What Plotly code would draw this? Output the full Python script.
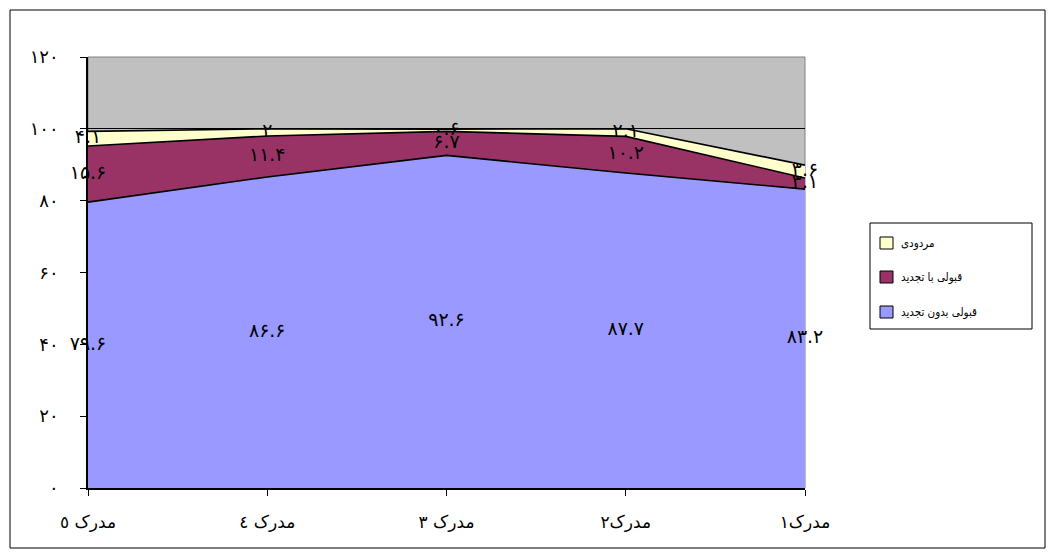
import plotly.graph_objects as go

# Categories (right-to-left order as shown on the axis from left to right)
categories = ["مدرک ٥", "مدرک ٤", "مدرک ٣", "مدرک٢", "مدرک١"]

# Series values (percent)
no_fail = [79.6, 86.6, 92.6, 87.7, 83.2]      # قبولی بدون تجدید
with_fail = [15.6, 11.4, 6.7, 10.2, 3.1]      # قبولی با تجدید
rejected = [4.1, 2, 0.6, 2.1, 3.6]            # مردودی

series_names = ["قبولی بدون تجدید", "قبولی با تجدید", "مردودی"]
series_values = [no_fail, with_fail, rejected]
series_colors = ["#9999FF", "#993366", "#FFFFCC"]

y_ticks = [0, 20, 40, 60, 80, 100, 120]

FA_DIGITS = str.maketrans("0123456789", "۰۱۲۳۴۵۶۷۸۹")


def fa(v):
    s = f"{v:g}"
    return s.translate(FA_DIGITS)


FONT = "DejaVu Sans, Arial, sans-serif"
FONT_NARROW = "DejaVu Sans Condensed, DejaVu Sans, sans-serif"
x = list(range(len(categories)))

fig = go.Figure()

# Stacked areas
for name, vals, col in zip(series_names, series_values, series_colors):
    fig.add_trace(go.Scatter(
        x=x, y=vals, name=name, stackgroup="one", mode="lines",
        line=dict(color="black", width=1.6), fillcolor=col,
        showlegend=False, hoverinfo="skip",
    ))

# Value labels centred inside each band
base = [0.0] * len(x)
for vals in series_values:
    mids = [b + v / 2 for b, v in zip(base, vals)]
    fig.add_trace(go.Scatter(
        x=x, y=mids, mode="text", text=[fa(v) for v in vals],
        textfont=dict(family=FONT, size=19, color="black"),
        textposition="middle center", showlegend=False, hoverinfo="skip",
        cliponaxis=False,
    ))
    base = [b + v for b, v in zip(base, vals)]

W, H = 1055, 558
L, R, T, B = 88, 250, 57, 70
pw, ph = W - L - R, H - T - B


def px(xp):
    return (xp - L) / pw


def py(yp):
    return (H - B - yp) / ph


shapes = []
annotations = []

# Outer chart frame
shapes.append(dict(type="rect", xref="paper", yref="paper",
                   x0=px(10), x1=px(1045), y0=py(548), y1=py(10),
                   line=dict(color="black", width=1), fillcolor="rgba(0,0,0,0)",
                   layer="above"))

# Plot area border
shapes.append(dict(type="rect", xref="paper", yref="paper",
                   x0=0, x1=1, y0=0, y1=1,
                   line=dict(color="#808080", width=1), fillcolor="rgba(0,0,0,0)",
                   layer="below"))

# Legend box (top entry is the last series)
lx0, lx1, ly0, ly1 = 870, 1032, 223, 329
shapes.append(dict(type="rect", xref="paper", yref="paper",
                   x0=px(lx0), x1=px(lx1), y0=py(ly1), y1=py(ly0),
                   line=dict(color="black", width=1), fillcolor="white",
                   layer="above"))
item_y = [243, 277, 312]
for (name, col), yc in zip(list(zip(series_names, series_colors))[::-1], item_y):
    shapes.append(dict(type="rect", xref="paper", yref="paper",
                       x0=px(880), x1=px(893), y0=py(yc + 6), y1=py(yc - 6),
                       line=dict(color="black", width=1), fillcolor=col,
                       layer="above"))
    annotations.append(dict(xref="paper", yref="paper", x=px(899), y=py(yc),
                            text=name, showarrow=False, xanchor="left",
                            yanchor="middle",
                            font=dict(family=FONT_NARROW, size=11.5, color="black")))

fig.update_layout(
    width=W, height=H,
    margin=dict(l=L, r=R, t=T, b=B),
    paper_bgcolor="white",
    plot_bgcolor="#C0C0C0",
    showlegend=False,
    shapes=shapes,
    annotations=annotations,
    xaxis=dict(
        range=[0, len(categories) - 1], tickvals=x, ticktext=categories,
        showgrid=False, zeroline=False,
        showline=True, linecolor="black", linewidth=1.5,
        ticks="outside", ticklen=6, tickcolor="black",
        ticklabelstandoff=12,
        tickfont=dict(family=FONT, size=17, color="black"),
        fixedrange=True,
    ),
    yaxis=dict(
        range=[0, 120], tickvals=y_ticks, ticktext=[fa(v) for v in y_ticks],
        showgrid=True, gridcolor="black", gridwidth=1, zeroline=False,
        showline=True, linecolor="black", linewidth=1.5,
        ticks="outside", ticklen=6, tickcolor="black",
        ticklabelstandoff=18,
        tickfont=dict(family=FONT, size=18, color="black"),
        fixedrange=True,
    ),
)

fig.write_html("out.html")
